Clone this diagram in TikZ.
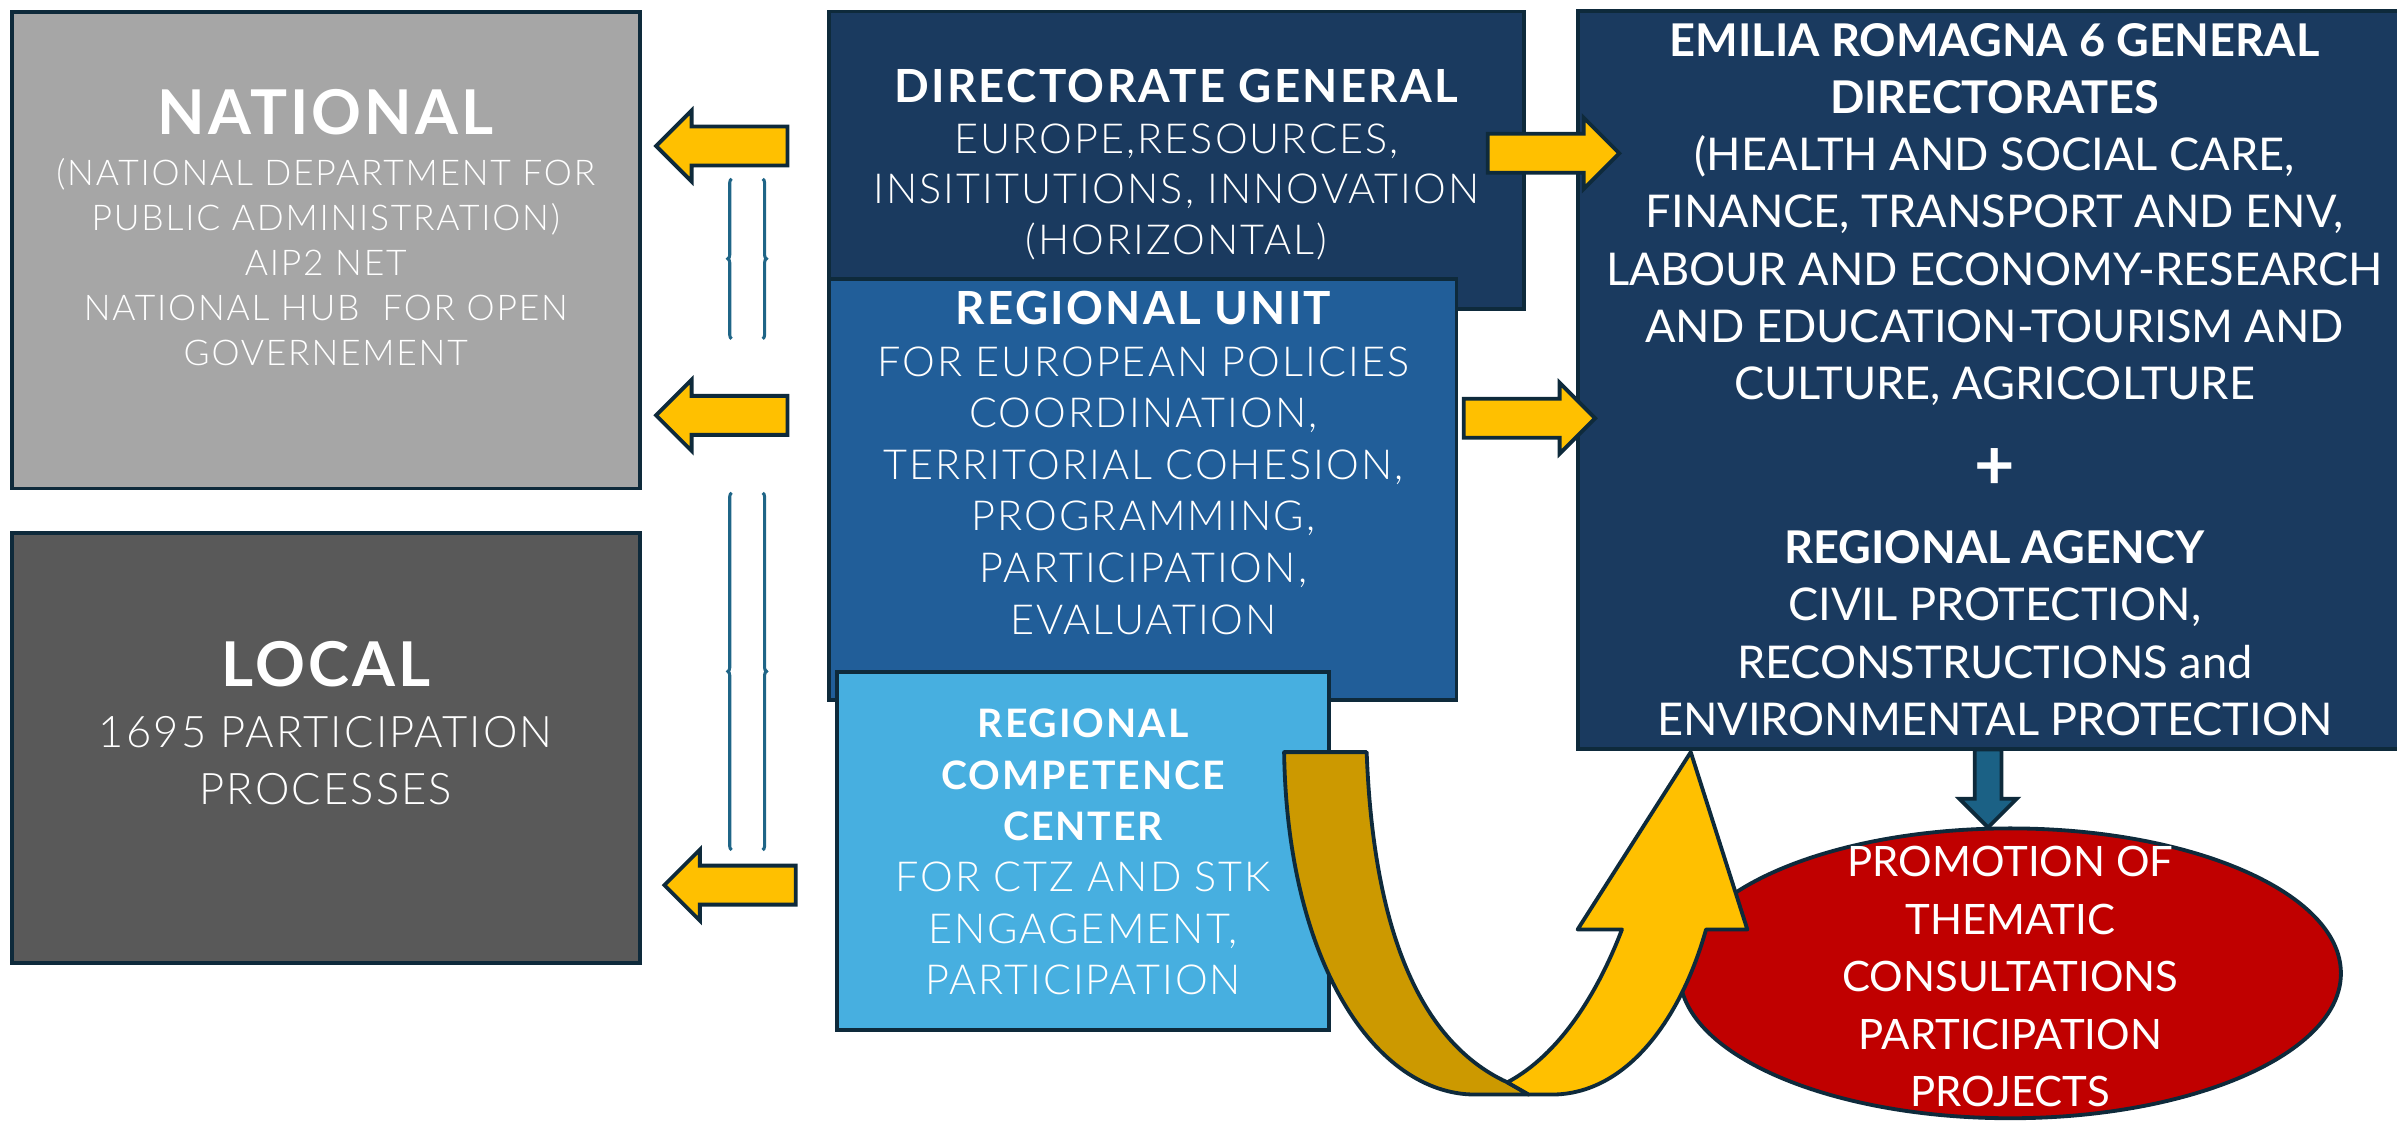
\documentclass[tikz,border=0pt]{standalone}
\usepackage{fontspec}
\setmainfont{Lato}[UprightFont=* Light, BoldFont=* Bold, LetterSpace=5]
\newfontfamily\emfont{Lato}
\usetikzlibrary{positioning,shapes.arrows,shapes.geometric,decorations.pathreplacing}

\definecolor{natgray}{HTML}{A6A6A6}
\definecolor{locgray}{HTML}{595959}
\definecolor{navy}{HTML}{1A3A5F}
\definecolor{unitblue}{HTML}{215E99}
\definecolor{skyblue}{HTML}{47AFE0}
\definecolor{edge}{HTML}{0E2A3B}
\definecolor{gold}{HTML}{FFC000}
\definecolor{ochre}{HTML}{CC9900}
\definecolor{darkred}{HTML}{C00000}
\definecolor{downteal}{HTML}{1B6185}
\definecolor{bracecol}{HTML}{1F6587}

\newcommand{\bigtitle}[1]{{\fontsize{23}{26}\selectfont\bfseries #1}}
\newcommand{\boxtitle}[1]{{\fontsize{17}{19}\selectfont\bfseries #1}}
\newcommand{\comptitle}[1]{{\fontsize{14.6}{19}\selectfont\bfseries #1}}

\tikzset{
  box/.style={rectangle, draw=edge, line width=0.5mm, inner sep=0pt},
  boxtext/.style={text=white, align=center, inner sep=0pt},
  yarrow/.style={single arrow, draw=edge, fill=gold, line width=0.5mm,
    inner sep=0pt, inner ysep=2.3mm, single arrow head extend=2.1mm,
    minimum height=17.2mm},
  darrow/.style={single arrow, draw=edge, fill=downteal, line width=0.5mm,
    inner sep=1.5mm, single arrow head extend=2mm,
    minimum height=10.2mm},
  bracket/.style={draw=bracecol, line width=0.4mm, decorate,
    decoration={brace, amplitude=0.5mm}},
  ribbon/.style={draw=edge, line width=0.5mm, line join=round}
}

\begin{document}
\begin{tikzpicture}[x=0.2mm, y=-0.2mm]
\useasboundingbox (0,0) rectangle (1568,733);

% left column
\node[box, fill=natgray, minimum width=82.16mm, minimum height=62.38mm] (national) at (213.1,163.55) {};
\node[box, fill=locgray, minimum width=82.16mm, minimum height=56.26mm] (local) at (213.1,489.15) {};

\node[boxtext, font=\fontsize{13.2}{16.73}\selectfont] (nattxt) at (213.1,149)
  {\bigtitle{NATIONAL}\\[2.2pt]
   (NATIONAL DEPARTMENT FOR\\ PUBLIC ADMINISTRATION)\\ AIP2 NET\\
   NATIONAL HUB\ \ FOR OPEN\\ GOVERNEMENT};
\node[boxtext, font=\fontsize{16.2}{21}\selectfont] (loctxt) at (213.1,473)
  {\bigtitle{LOCAL}\\[1.8pt] 1695 PARTICIPATION\\ PROCESSES};

% middle column
\node[box, fill=navy, minimum width=90.9mm, minimum height=38.88mm] (dirgen) at (769.65,104.7) {};
\node[box, fill=unitblue, minimum width=82.06mm, minimum height=55.16mm] (regunit) at (747.55,320.2) {};
\node[box, fill=skyblue, minimum width=64.34mm, minimum height=46.78mm] (regcomp) at (708.55,556.75) {};

\node[boxtext, font=\fontsize{15.4}{18.8}\selectfont] (dirtxt) at (769.5,107.5)
  {\boxtitle{DIRECTORATE GENERAL}\\ EUROPE,RESOURCES,\\
   INSITITUTIONS, INNOVATION\\ (HORIZONTAL)};
\node[boxtext, font=\fontsize{15.4}{19.2}\selectfont] (unittxt) at (748,302.8)
  {\boxtitle{REGIONAL UNIT}\\ FOR EUROPEAN POLICIES\\ COORDINATION,\\
   TERRITORIAL COHESION,\\ PROGRAMMING,\\ PARTICIPATION,\\ EVALUATION};
\node[boxtext, font=\fontsize{15.4}{19.1}\selectfont] (comptxt) at (708.5,557.3)
  {\comptitle{REGIONAL}\\ \comptitle{COMPETENCE}\\ \comptitle{CENTER}\\
   FOR CTZ AND STK\\ ENGAGEMENT,\\ PARTICIPATION};

% right column
\node[box, fill=navy, minimum width=109.04mm, minimum height=96.58mm] (emilia) at (1304.8,248.45) {};
\node[boxtext, font=\emfont\fontsize{16.8}{21.3}\selectfont] (emitxt) at (1304.8,140.3)
  {\textbf{EMILIA ROMAGNA 6 GENERAL}\\ \textbf{DIRECTORATES}\\
   (HEALTH AND SOCIAL CARE,\\ FINANCE, TRANSPORT AND ENV,\\
   LABOUR AND ECONOMY-RESEARCH\\ AND EDUCATION-TOURISM AND\\
   CULTURE, AGRICOLTURE};
\node[boxtext, font=\emfont\bfseries\fontsize{26}{26}\selectfont] (plus) at (1304.8,306.8) {+};
\node[boxtext, font=\emfont\fontsize{16.8}{21.3}\selectfont] (agencytxt) at (1304.8,414.2)
  {\textbf{REGIONAL AGENCY}\\ CIVIL PROTECTION,\\
   RECONSTRUCTIONS and\\ ENVIRONMENTAL PROTECTION};

% block arrows
\node[yarrow, shape border rotate=180, anchor=tip] (tonat) at (427.4,95.5) {};
\node[yarrow, shape border rotate=180, anchor=tip] (tonatb) at (427.4,271.7) {};
\node[yarrow, shape border rotate=180, anchor=tip] (toloc) at (432.8,579) {};
\node[yarrow, anchor=tail] (toemi) at (972,100.3) {};
\node[yarrow, anchor=tail] (toemib) at (956.2,273.6) {};

\draw[bracket] (478.6,221.6) -- (478.6,117);
\draw[bracket] (498.9,117) -- (498.9,221.6);
\draw[bracket] (478.6,556) -- (478.6,322.4);
\draw[bracket] (498.9,322.4) -- (498.9,556);

% promotion
\node[darrow, shape border rotate=270, anchor=tail] (topromo) at (1300.5,489) {};
\node[ellipse, draw=edge, fill=darkred, line width=0.5mm, inner sep=0pt,
  minimum width=86.52mm, minimum height=37.92mm] (promo) at (1315,636.7) {};
\node[boxtext, font=\emfont\fontsize{15.6}{21.4}\selectfont] (promotxt) at (1315,638.9)
  {PROMOTION OF\\ THEMATIC\\ CONSULTATIONS\\ PARTICIPATION\\ PROJECTS};

% curved arrow
\draw[ribbon, fill=ochre] (840,492) -- (894,492)
  .. controls (898,600) and (925,680) .. (986,708) -- (1000,716) -- (965,716)
  .. controls (900,716) and (842,630) .. (840,492) -- cycle;
\draw[ribbon, fill=gold] (986,708) .. controls (1020,690) and (1045,650) .. (1061,608)
  -- (1032,608) -- (1106,492) -- (1143,608) -- (1116,608)
  .. controls (1100,665) and (1065,716) .. (1015,716) -- (1000,716) -- cycle;
\end{tikzpicture}
\end{document}
